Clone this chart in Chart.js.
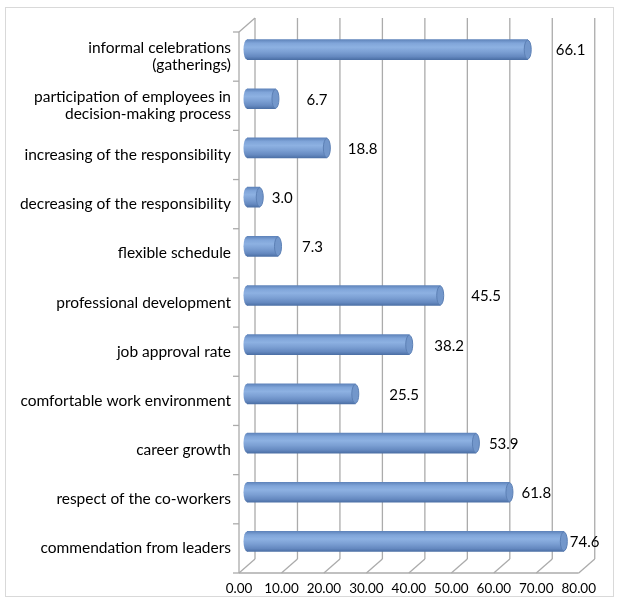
<!DOCTYPE html>
<html>
<head>
<meta charset="utf-8">
<script src="https://cdn.jsdelivr.net/npm/chart.js@4.4.0/dist/chart.umd.min.js"></script>
<style>
html, body { margin: 0; padding: 0; background: #fff; }
#wrap { position: relative; width: 619px; height: 601px; }
</style>
</head>
<body>
<div id="wrap"><canvas id="chart"></canvas></div>
<script>
const categories = [
    ['informal celebrations', '(gatherings)'],
    ['participation of employees in', 'decision-making process'],
    'increasing of the responsibility',
    'decreasing of the responsibility',
    'flexible schedule',
    'professional development',
    'job approval rate',
    'comfortable work environment',
    'career growth',
    'respect of the co-workers',
    'commendation from leaders'
];
const shares = [66.1, 6.7, 18.8, 3.0, 7.3, 45.5, 38.2, 25.5, 53.9, 61.8, 74.6];
const xTicks = [0, 10, 20, 30, 40, 50, 60, 70, 80];

// excel puts the value labels at uneven distances from the bar ends
const labelGap = [28, 31, 21, 12, 24, 31, 25, 34, 13, 12, 6];

const DX = 8, DY = 7;          // half of the 3d depth
const HALF = 10;               // half bar thickness
const RX = 3.5;                // cap ellipse radius
const FONT = 'Lato, "Open Sans", sans-serif';

function cylGrad(ctx, y) {
    const g = ctx.createLinearGradient(0, y - HALF, 0, y + HALF);
    g.addColorStop(0, '#5f84bb');
    g.addColorStop(0.18, '#80a5d9');
    g.addColorStop(0.38, '#8db1e2');
    g.addColorStop(0.62, '#7b9fd3');
    g.addColorStop(0.85, '#6589c0');
    g.addColorStop(1, '#4c70a6');
    return g;
}

function line(ctx, x1, y1, x2, y2) {
    ctx.beginPath();
    ctx.moveTo(x1, y1);
    ctx.lineTo(x2, y2);
    ctx.stroke();
}

const box3d = {
    id: 'box3d',
    beforeDraw(chart) {
        const ctx = chart.ctx;
        ctx.save();
        ctx.strokeStyle = '#d9d9d9';
        ctx.lineWidth = 1;
        ctx.strokeRect(5.5, 7.5, 608, 589);
        ctx.restore();
    },
    beforeDatasetsDraw(chart) {
        const ctx = chart.ctx, xs = chart.scales.x;
        const { top, bottom } = chart.chartArea;
        const x0 = xs.getPixelForValue(0);
        ctx.save();
        ctx.strokeStyle = '#ababab';
        ctx.lineWidth = 1.3;
        // back wall gridlines and floor
        xTicks.forEach(v => {
            const x = xs.getPixelForValue(v);
            line(ctx, x + DX, top - DY, x + DX, bottom - DY);
            line(ctx, x - DX, bottom + DY, x + DX, bottom - DY);
        });
        line(ctx, x0 - DX, bottom + DY, xs.getPixelForValue(80) - DX, bottom + DY);
        // left wall
        line(ctx, x0 - DX, top + DY, x0 - DX, bottom + DY);
        line(ctx, x0 - DX, top + DY, x0 + DX, top - DY);
        const step = (bottom - top) / categories.length;
        for (let i = 0; i <= categories.length; i++) {
            const y = top + i * step + DY;
            line(ctx, x0 - DX - 6, y, x0 - DX, y);
        }
        // rounded starts of the cylinders
        chart.getDatasetMeta(0).data.forEach(bar => {
            ctx.fillStyle = cylGrad(ctx, bar.y);
            ctx.beginPath();
            ctx.ellipse(bar.base, bar.y, RX, HALF, 0, 0, Math.PI * 2);
            ctx.fill();
        });
        ctx.restore();
    },
    afterDatasetsDraw(chart) {
        const ctx = chart.ctx;
        ctx.save();
        chart.getDatasetMeta(0).data.forEach((bar, i) => {
            ctx.fillStyle = '#7397cb';
            ctx.strokeStyle = '#5c80b5';
            ctx.lineWidth = 1;
            ctx.beginPath();
            ctx.ellipse(bar.x, bar.y, RX, HALF - 0.5, 0, 0, Math.PI * 2);
            ctx.fill();
            ctx.stroke();
            ctx.fillStyle = '#000';
            ctx.font = '15px ' + FONT;
            ctx.textAlign = 'left';
            ctx.textBaseline = 'middle';
            ctx.fillText(shares[i].toFixed(1), bar.x + labelGap[i], bar.y + 1);
        });
        ctx.restore();
    }
};

new Chart(document.getElementById('chart').getContext('2d'), {
    type: 'bar',
    data: {
        labels: categories,
        datasets: [{
            data: shares,
            barThickness: HALF * 2,
            borderWidth: 0,
            backgroundColor: c => {
                const ys = c.chart.scales.y;
                if (!ys || c.dataIndex === undefined) return '#7ba0d4';
                const y = ys.getPixelForValue(c.dataIndex);
                if (!isFinite(y)) return '#7ba0d4';
                return cylGrad(c.chart.ctx, y);
            }
        }]
    },
    options: {
        indexAxis: 'y',
        responsive: true,
        maintainAspectRatio: false,
        animation: false,
        layout: { padding: { top: 25, right: 22, bottom: 0, left: 0 } },
        plugins: {
            legend: { display: false },
            tooltip: { enabled: false }
        },
        scales: {
            x: {
                min: 0,
                max: 80,
                grid: { display: false, drawTicks: false },
                border: { display: false },
                afterFit(s) { s.height = 35; },
                ticks: {
                    stepSize: 10,
                    padding: 15,
                    labelOffset: -DX,
                    maxRotation: 0,
                    color: '#000',
                    font: { family: FONT, size: 13.5 },
                    callback: v => v.toFixed(2)
                }
            },
            y: {
                grid: { display: false, drawTicks: false },
                border: { display: false },
                afterFit(s) { s.width = 247; },
                ticks: {
                    padding: 16,
                    labelOffset: DY,
                    color: '#000',
                    font: { family: FONT, size: 15.5, lineHeight: 1.1 }
                }
            }
        }
    },
    plugins: [box3d]
});
</script>
</body>
</html>
